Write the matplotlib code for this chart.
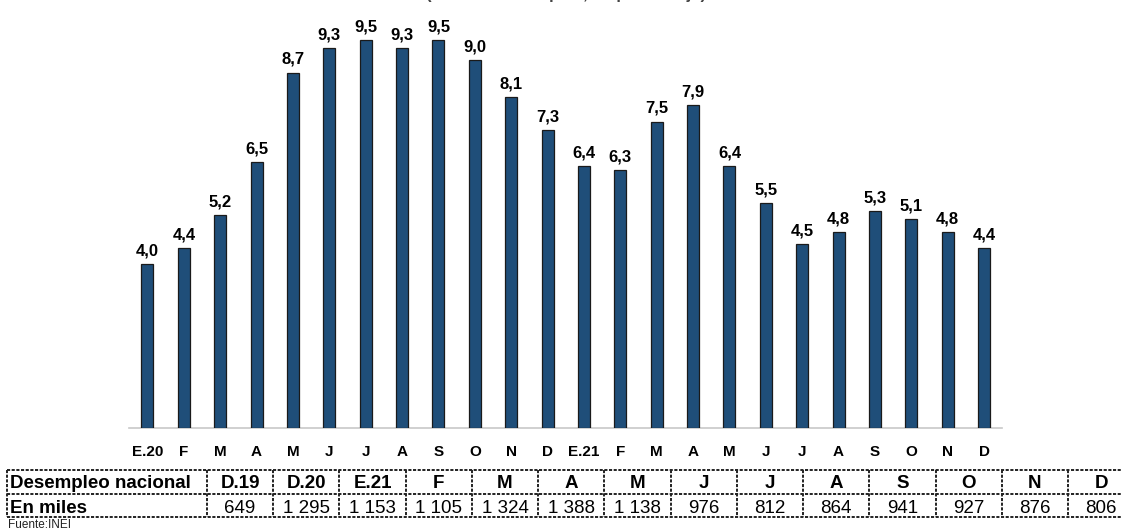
import matplotlib
matplotlib.use("Agg")
import matplotlib.pyplot as plt
import matplotlib.transforms as mtransforms

# ---------------- data ----------------
months = ["E.20", "F", "M", "A", "M", "J", "J", "A", "S", "O", "N", "D",
          "E.21", "F", "M", "A", "M", "J", "J", "A", "S", "O", "N", "D"]
rates = [4.0, 4.4, 5.2, 6.5, 8.7, 9.3, 9.5, 9.3, 9.5, 9.0, 8.1, 7.3,
         6.4, 6.3, 7.5, 7.9, 6.4, 5.5, 4.5, 4.8, 5.3, 5.1, 4.8, 4.4]
table_row_labels = ["Desempleo nacional", "En miles"]
table_header = ["D.19", "D.20", "E.21", "F", "M", "A", "M", "J", "J",
                "A", "S", "O", "N", "D"]
table_values = ["649", "1 295", "1 153", "1 105", "1 324", "1 388", "1 138",
                "976", "812", "864", "941", "927", "876", "806"]
title_text = "(Tasa de desempleo, en porcentaje)"
source_text = "Fuente:INEI"

# ---------------- figure ----------------
plt.rcParams["font.family"] = ["Liberation Sans", "DejaVu Sans"]
W, H = 1122, 531
fig = plt.figure(figsize=(W / 100, H / 100), dpi=100)
fig.patch.set_facecolor("white")

base_y = 427.5          # baseline pixel (from top)
px_per_unit = 40.8
left_px, width_px = 129.3, 873.0
ax = fig.add_axes([left_px / W, (H - base_y) / H, width_px / W, base_y / H])
ax.set_xlim(-0.5, len(rates) - 0.5)
ax.set_ylim(0, base_y / px_per_unit)
for s in ["top", "right", "left"]:
    ax.spines[s].set_visible(False)
ax.spines["bottom"].set_color("#c8c8c8")
ax.spines["bottom"].set_linewidth(1.2)
ax.set_yticks([])
ax.set_xticks([])
ax.patch.set_alpha(0)

x = list(range(len(rates)))
ax.bar(x, rates, width=0.33, color="#1f4e79", edgecolor="#1a1a1a",
       linewidth=0.9, zorder=3)
for xi, v in zip(x, rates):
    ax.annotate(f"{v:.1f}".replace(".", ","), (xi, v), xytext=(0, 6.2),
                textcoords="offset points", ha="center", va="baseline",
                fontsize=12, fontweight="bold", color="black")

# month labels
tr = mtransforms.blended_transform_factory(ax.transData, fig.transFigure)
for xi, m in zip(x, months):
    ax.text(xi, (H - 456) / H, m, transform=tr, ha="center", va="baseline",
            fontsize=11, fontweight="bold", color="black", clip_on=False)

# title (cut off at top in the reference: only its lowest part shows)
ax.text(0.5, (H + 0.5) / H, title_text,
        transform=mtransforms.blended_transform_factory(ax.transAxes, fig.transFigure),
        ha="center", va="baseline", fontsize=12, fontweight="bold",
        color="#444444", clip_on=False)

# ---------------- table ----------------
tax = fig.add_axes([0, 0, 1, 1])
tax.set_xlim(0, W)
tax.set_ylim(H, 0)
tax.axis("off")
tax.patch.set_alpha(0)

t_left, t_first = 7, 207
col_w = (1068 - 207) / 13
rows_y = [470, 494, 517]
n_cols = len(table_header)
t_right = t_first + col_w * n_cols
ls = (0, (1.6, 0.8))
for yy in rows_y:
    tax.plot([t_left, t_right], [yy, yy], color="#222222", lw=1.4, ls=ls,
             solid_capstyle="butt", clip_on=False)
vx = [t_left, t_first] + [t_first + col_w * (k + 1) for k in range(n_cols)]
for xx in vx:
    tax.plot([xx, xx], [rows_y[0], rows_y[-1]], color="#222222", lw=1.4,
             ls=ls, clip_on=False)

row_base = [488, 513]
fs_tab = 13.5
tax.text(t_left + 3, row_base[0], table_row_labels[0], ha="left",
         va="baseline", fontsize=fs_tab, fontweight="bold")
tax.text(t_left + 3, row_base[1], table_row_labels[1], ha="left",
         va="baseline", fontsize=fs_tab, fontweight="bold")
for k, (hd, val) in enumerate(zip(table_header, table_values)):
    cx = t_first + col_w * (k + 0.5)
    tax.text(cx, row_base[0], hd, ha="center", va="baseline",
             fontsize=fs_tab, fontweight="bold")
    tax.text(cx, row_base[1], val, ha="center", va="baseline",
             fontsize=fs_tab)

tax.text(t_left + 1, 527.5, source_text, ha="left", va="baseline",
         fontsize=8.5, color="#222222")

fig.savefig("out.png", dpi=100, facecolor="white")
